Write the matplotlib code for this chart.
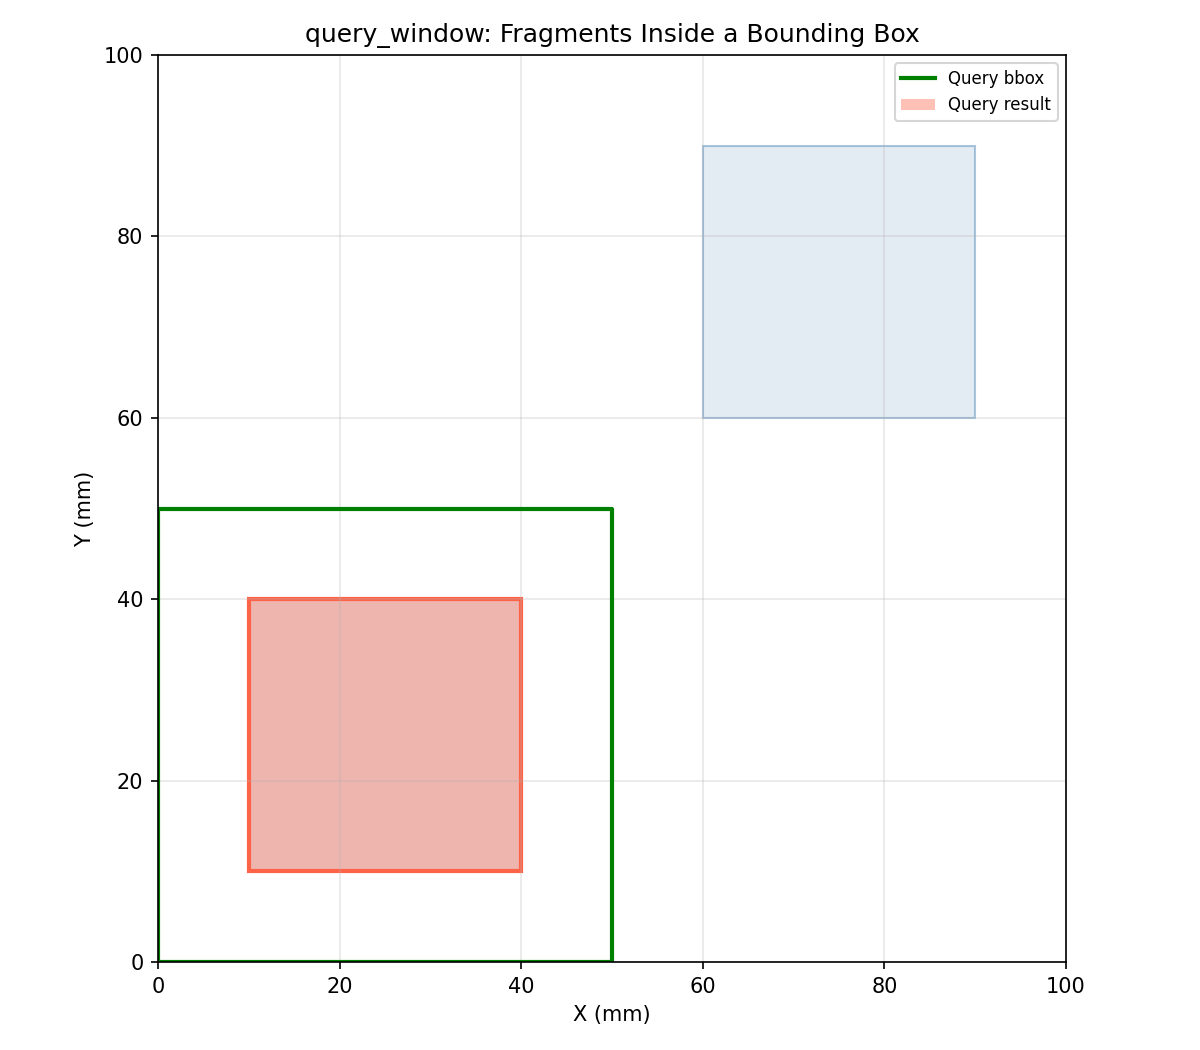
import matplotlib
matplotlib.use("Agg")
import matplotlib.pyplot as plt
from matplotlib.patches import Rectangle

# Data
fragments = [(10, 10, 40, 40), (60, 60, 90, 90)]   # (xmin, ymin, xmax, ymax)
query_bbox = (0, 0, 50, 50)
query_result = [(10, 10, 40, 40)]

fig = plt.figure(figsize=(8, 7), dpi=150)
ax = fig.add_axes([158/1200, 88/1050, 908/1200, 907/1050])

for (x0, y0, x1, y1) in fragments:
    ax.add_patch(Rectangle((x0, y0), x1 - x0, y1 - y0,
                           facecolor=(70/255, 130/255, 180/255, 0.15),
                           edgecolor=(70/255, 130/255, 180/255, 0.45),
                           linewidth=1))

bx0, by0, bx1, by1 = query_bbox
ax.plot([bx0, bx1, bx1, bx0, bx0], [by0, by0, by1, by1, by0],
        color="green", linewidth=2, label="Query bbox")

for i, (x0, y0, x1, y1) in enumerate(query_result):
    ax.add_patch(Rectangle((x0, y0), x1 - x0, y1 - y0,
                           facecolor=(1.0, 99/255, 71/255, 0.4),
                           edgecolor="none",
                           label="Query result" if i == 0 else None))
    ax.add_patch(Rectangle((x0, y0), x1 - x0, y1 - y0,
                           facecolor="none", edgecolor="tomato", linewidth=2))

ax.set_xlim(0, 100)
ax.set_ylim(0, 100)
ax.grid(True, alpha=0.3)
ax.set_xlabel("X (mm)")
ax.set_ylabel("Y (mm)")
ax.set_title("query_window: Fragments Inside a Bounding Box")
ax.legend(loc="upper right", fontsize=8)
fig.savefig("out.png")
